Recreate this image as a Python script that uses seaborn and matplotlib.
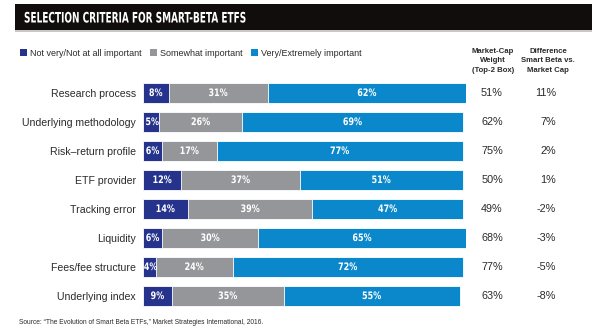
import matplotlib
matplotlib.use("Agg")
import matplotlib.pyplot as plt
import matplotlib.patches as mpatches
from matplotlib import patheffects
from matplotlib.transforms import Affine2D
import pandas as pd
import seaborn as sns

criteria = ["Research process", "Underlying methodology", "Risk\u2013return profile",
            "ETF provider", "Tracking error", "Liquidity", "Fees/fee structure",
            "Underlying index"]
not_important = [8, 5, 6, 12, 14, 6, 4, 9]
somewhat_important = [31, 26, 17, 37, 39, 30, 24, 35]
very_important = [62, 69, 77, 51, 47, 65, 72, 55]
market_cap_top2 = [51, 62, 75, 50, 49, 68, 77, 63]
difference = [11, 7, 2, 1, -2, -3, -5, -8]

series_names = ["Not very/Not at all important", "Somewhat important",
                "Very/Extremely important"]
colors = ["#26338c", "#959699", "#0a88cb"]

sns.set_theme(style="white")
plt.rcParams["font.family"] = ["Liberation Sans", "DejaVu Sans"]


class Condensed(patheffects.AbstractPathEffect):
    """Squeeze a text horizontally around its anchor point."""

    def __init__(self, text, sx):
        super().__init__()
        self.text = text
        self.sx = sx

    def draw_path(self, renderer, gc, tpath, affine, rgbFace=None):
        x0 = self.text.get_transform().transform(self.text.get_position())[0]
        squeeze = Affine2D().translate(-x0, 0).scale(self.sx, 1).translate(x0, 0)
        renderer.draw_path(gc, tpath, affine + squeeze, rgbFace)


def condense(text, sx):
    text.set_path_effects([Condensed(text, sx)])
    return text


df = pd.DataFrame({
    "criterion": criteria,
    "not": not_important,
    "some": somewhat_important,
    "very": very_important,
})
df["c1"] = df["not"]
df["c2"] = df["not"] + df["some"]
df["c3"] = df["c2"] + df["very"]

fig = plt.figure(figsize=(6.0, 3.36), dpi=100)
ax = fig.add_axes([0.2383, 0.0759, 0.5383, 0.6905])

# stacked bars drawn as overlaid cumulative totals, largest first
for col, color in zip(["c3", "c2", "c1"], colors[::-1]):
    sns.barplot(data=df, x=col, y="criterion", orient="h", color=color,
                width=0.72, edgecolor="white", linewidth=0.6, ax=ax,
                saturation=1)

ax.set_xlim(0, 101)
ax.set_ylim(len(criteria) - 0.5, -0.5)
ax.set_xlabel("")
ax.set_ylabel("")
ax.set_xticks([])
ax.tick_params(axis="y", length=0, pad=5, labelsize=7.6, labelcolor="#2a2a2a")
for s in ax.spines.values():
    s.set_visible(False)

# value labels inside each segment
lab_kw = dict(ha="center", va="center", color="white", fontsize=7.4,
              fontweight="bold", family=["DejaVu Sans"])
for i in range(len(criteria)):
    a, b, c = not_important[i], somewhat_important[i], very_important[i]
    x1 = a / 2 if a >= 6 else a / 2 + 0.4
    condense(ax.text(x1, i, f"{a}%", **lab_kw), 0.78)
    condense(ax.text(a + b / 2, i, f"{b}%", **lab_kw), 0.78)
    condense(ax.text(a + b + c / 2, i, f"{c}%", **lab_kw), 0.78)

# right-hand comparison columns
for i, (m, d) in enumerate(zip(market_cap_top2, difference)):
    y_disp = ax.transData.transform((0, i))[1]
    y_fig = fig.transFigure.inverted().transform((0, y_disp))[1]
    fig.text(492 / 600, y_fig, f"{m}%", ha="center", va="center",
             fontsize=7.8, color="#2a2a2a")
    fig.text(556 / 600, y_fig, f"{d}%", ha="right", va="center",
             fontsize=7.8, color="#2a2a2a")

# column headers
hdr_kw = dict(ha="center", va="center", fontsize=5.6, fontweight="bold",
              color="#2a2a2a", linespacing=1.45)
fig.text(493 / 600, 1 - 61 / 336, "Market-Cap\nWeight\n(Top-2 Box)", **hdr_kw)
fig.text(548 / 600, 1 - 61 / 336, "Difference\nSmart Beta vs.\nMarket Cap", **hdr_kw)

# title band
fig.add_artist(mpatches.Rectangle((15 / 600, 1 - 30 / 336), 577 / 600, 26 / 336,
                                  transform=fig.transFigure, facecolor="#110d0c",
                                  edgecolor="none"))
fig.add_artist(mpatches.Rectangle((15 / 600, 1 - 31.5 / 336), 577 / 600, 1.2 / 336,
                                  transform=fig.transFigure, facecolor="#c8c8c8",
                                  edgecolor="none"))
condense(fig.text(24 / 600, 1 - 18.5 / 336, "SELECTION CRITERIA FOR SMART-BETA ETFS",
                  ha="left", va="center", fontsize=10.4, fontweight="bold",
                  color="white", family=["DejaVu Sans"]), 0.62)

# legend
handles = [mpatches.Patch(facecolor=c, edgecolor="none", label=n)
           for n, c in zip(series_names, colors)]
fig.legend(handles=handles, loc="center left",
           bbox_to_anchor=(12 / 600, 1 - 53 / 336), ncol=3, frameon=False,
           fontsize=6.5, handlelength=0.75, handleheight=0.75,
           handletextpad=0.35, columnspacing=0.95, labelcolor="#2a2a2a")

# source note
fig.text(19 / 600, 1 - 323 / 336,
         "Source: \u201cThe Evolution of Smart Beta ETFs,\u201d Market Strategies International, 2016.",
         ha="left", va="center", fontsize=4.8, color="#2a2a2a")

fig.savefig("out.png", dpi=100, facecolor="white")
